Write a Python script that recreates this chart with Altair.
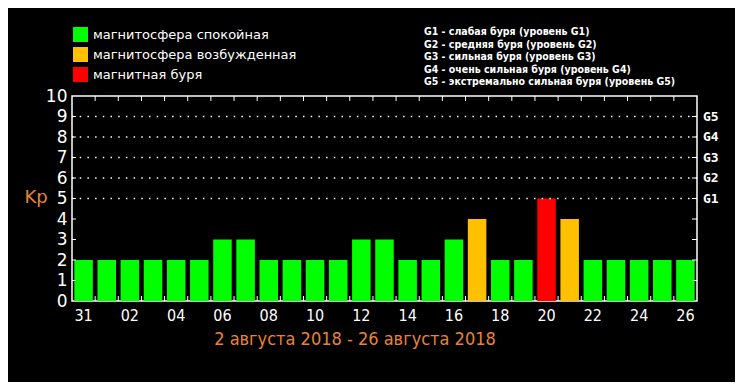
import altair as alt
import pandas as pd

# ---- data ----
days = ["31", "01", "02", "03", "04", "05", "06", "07", "08", "09", "10", "11", "12", "13",
        "14", "15", "16", "17", "18", "19", "20", "21", "22", "23", "24", "25", "26"]
kp = [2, 2, 2, 2, 2, 2, 3, 3, 2, 2, 2, 2, 3, 3, 2, 2, 3, 4, 2, 2, 5, 4, 2, 2, 2, 2, 2]
shown_days = ["31", "02", "04", "06", "08", "10", "12", "14", "16", "18", "20", "22", "24", "26"]

status_names = ["магнитосфера спокойная", "магнитосфера возбужденная", "магнитная буря"]
status_colors = ["#00FF00", "#FFC000", "#FF0000"]

g_levels = [5, 6, 7, 8, 9]
g_labels = ["G1", "G2", "G3", "G4", "G5"]
g_desc = ["G1 - слабая буря (уровень G1)",
          "G2 - средняя буря (уровень G2)",
          "G3 - сильная буря (уровень G3)",
          "G4 - очень сильная буря (уровень G4)",
          "G5 - экстремально сильная буря (уровень G5)"]
y_ticks = [0, 1, 2, 3, 4, 5, 6, 7, 8, 9, 10]
date_title = "2 августа 2018 - 26 августа 2018"
y_title = "Kp"

W, H = 625, 205
ORANGE = "#E8833A"
NARROW = "Liberation Sans Narrow, DejaVu Sans Condensed, Arial Narrow, sans-serif"


def status_of(v):
    if v >= 5:
        return status_names[2]
    if v >= 4:
        return status_names[1]
    return status_names[0]


df = pd.DataFrame({"day": days, "kp": kp, "status": [status_of(v) for v in kp]})

label_expr = "indexof(" + str(shown_days) + ", datum.value) >= 0 ? datum.value : ''"

bars = alt.Chart(df).mark_bar().encode(
    x=alt.X("day:N", sort=days, title=None,
            scale=alt.Scale(paddingInner=0.2, paddingOuter=0.1),
            axis=alt.Axis(labelExpr=label_expr, ticks=False, domain=False,
                          labelAngle=0, labelColor="white", labelFontSize=16,
                          labelFont=NARROW, labelPadding=6)),
    y=alt.Y("kp:Q", title=None,
            scale=alt.Scale(domain=[0, 10], nice=False),
            axis=alt.Axis(values=y_ticks, grid=False, ticks=False, domain=False,
                          labelColor="white", labelFontSize=17, labelFont="DejaVu Sans",
                          labelPadding=5)),
    color=alt.Color("status:N",
                    scale=alt.Scale(domain=status_names, range=status_colors),
                    legend=alt.Legend(orient="none", legendX=1, legendY=-69, title=None,
                                      symbolType="square", symbolSize=225,
                                      symbolStrokeWidth=0, symbolOpacity=1,
                                      labelColor="white", labelFontSize=13,
                                      labelFont="DejaVu Sans", rowPadding=5,
                                      labelOffset=5, labelLimit=400)),
)

# dotted grid lines at storm levels
grid_df = pd.DataFrame({"lvl": g_levels, "g": g_labels})
grid = alt.Chart(grid_df).mark_rule(color="white", strokeDash=[1.5, 6.2], strokeWidth=1.5).encode(
    x=alt.value(0), x2=alt.value(W),
    y=alt.Y("lvl:Q", axis=None),
)
g_text = alt.Chart(grid_df).mark_text(align="left", baseline="middle", color="white",
                                      fontSize=13, fontWeight="bold",
                                      font="DejaVu Sans Mono").encode(
    x=alt.value(W + 6),
    y=alt.Y("lvl:Q", axis=None),
    text="g:N",
)

# inward ticks on x (band boundaries)
bound_df = pd.DataFrame({"b": list(range(1, len(days)))})
xq = alt.X("b:Q", axis=None, scale=alt.Scale(domain=[0, len(days)], nice=False))
top_ticks = alt.Chart(bound_df).mark_rule(color="white").encode(
    x=xq, y=alt.value(0), y2=alt.value(5))
bot_ticks = alt.Chart(bound_df).mark_rule(color="white").encode(
    x=xq, y=alt.value(H - 5), y2=alt.value(H))

# inward ticks on y
yt_df = pd.DataFrame({"v": y_ticks[1:-1]})
left_ticks = alt.Chart(yt_df).mark_rule(color="white").encode(
    x=alt.value(0), x2=alt.value(4), y=alt.Y("v:Q", axis=None))
right_ticks = alt.Chart(yt_df).mark_rule(color="white").encode(
    x=alt.value(W - 5), x2=alt.value(W), y=alt.Y("v:Q", axis=None))

# annotations
desc_text = alt.Chart(pd.DataFrame({"t": ["\n".join(g_desc)]})).mark_text(
    align="left", baseline="top", color="white", fontSize=10.5, fontWeight="bold",
    font="DejaVu Sans Condensed, Liberation Sans Narrow, sans-serif",
    lineBreak="\n", lineHeight=12.6).encode(
    x=alt.value(352), y=alt.value(-69), text="t:N")

kp_text = alt.Chart(pd.DataFrame({"t": [y_title]})).mark_text(
    align="center", baseline="middle", color=ORANGE, fontSize=18,
    font="DejaVu Sans").encode(x=alt.value(-36), y=alt.value(102), text="t:N")

date_text = alt.Chart(pd.DataFrame({"t": [date_title]})).mark_text(
    align="center", baseline="middle", color=ORANGE, fontSize=18,
    font=NARROW).encode(x=alt.value(283), y=alt.value(244), text="t:N")

chart = alt.layer(
    bars, grid, g_text, top_ticks, bot_ticks, left_ticks, right_ticks,
    desc_text, kp_text, date_text,
).resolve_scale(x="independent").resolve_axis(y="independent").properties(
    width=W, height=H,
    autosize=alt.AutoSizeParams(type="none"),
    padding={"left": 64, "top": 88, "right": 38, "bottom": 81},
    background="black",
).configure_view(stroke="white", strokeWidth=1.5)

chart.save("out.html", embed_options={"renderer": "svg", "actions": False})
